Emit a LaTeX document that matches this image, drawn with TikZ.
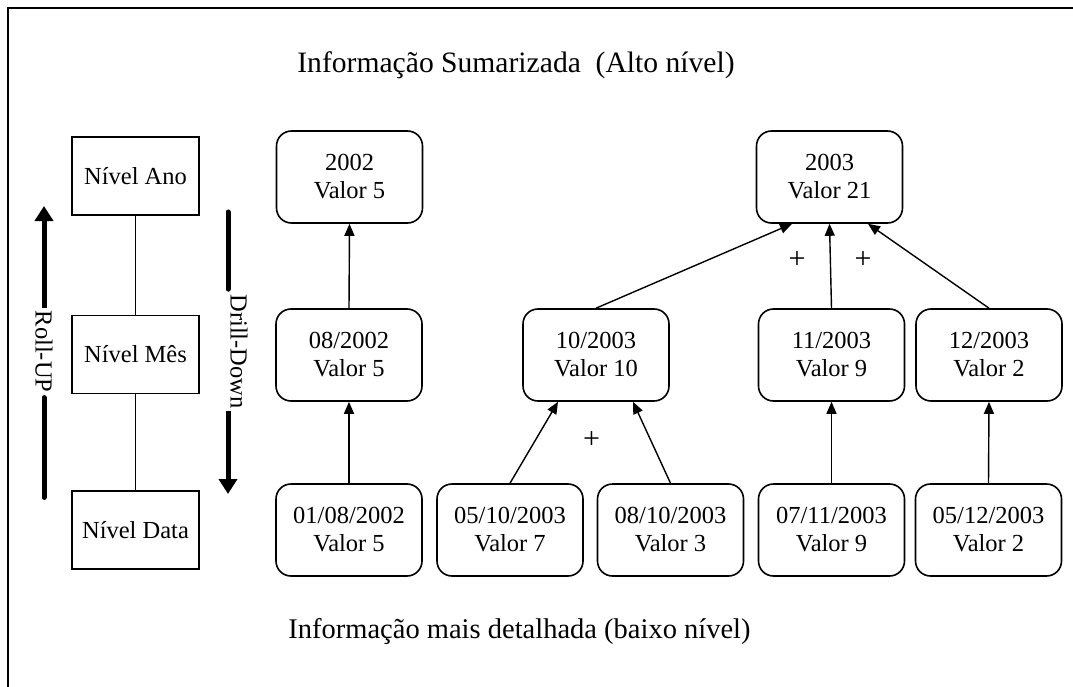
\documentclass[tikz,border=0pt]{standalone}
\usepackage{fontspec}
\setmainfont{Liberation Serif}
\usetikzlibrary{arrows.meta}
\begin{document}
\begin{tikzpicture}[x=1pt,y=-1pt,
  txt/.style={font=\fontsize{24.5}{28}\selectfont, align=center, inner sep=0pt},
  cell/.style={txt, draw, line width=1.6pt, rounded corners=15pt, minimum width=146pt, minimum height=92pt},
  level/.style={txt, draw, line width=1.5pt, minimum width=127pt, minimum height=78pt},
  conn/.style={line width=1.4pt, -{Triangle[width=10pt,length=12pt]}},
  link/.style={line width=1pt},
  heavy/.style={line width=5pt},
  heavyarrow/.style={heavy, -{Triangle[width=18pt,length=15pt]}},
  title/.style={font=\fontsize{28.5}{34}\selectfont, inner sep=0pt, anchor=base},
  sideword/.style={txt, rotate=-90, inner sep=2.5pt},
  plus/.style={txt, font=\fontsize{30}{34}\selectfont}]
\useasboundingbox (0,0) rectangle (1073,687);

% outer frame
\draw[line width=2.2pt] (8,700) -- (8,8) -- (1090,8);

% headings
\node[title, font=\fontsize{29.6}{34}\selectfont] (toptitle) at (516,73) {Informação Sumarizada\ \ (Alto nível)};
\node[title] (bottitle) at (519.5,638) {Informação mais detalhada (baixo nível)};

% hierarchy levels
\node[level] (ano)  at (135.5,176)   {Nível Ano};
\node[level] (mes)  at (135.5,354.5) {Nível Mês};
\node[level] (data) at (135.5,530)   {Nível Data};
\draw[link] (ano) -- (mes);
\draw[link] (mes) -- (data);

% roll-up / drill-down arrows
\node[sideword] (ru) at (44,351.5) {Roll-UP};
\node[sideword] (dd) at (239,351.5) {Drill-Down};
\coordinate (rubot) at (44,497.5);
\coordinate (rutop) at (44,206);
\coordinate (ddtop) at (228,212);
\coordinate (ddtip) at (228,494);
\draw[heavy, line cap=round, shorten >=2.5pt] (rubot) -- (rubot |- ru.east);
\draw[heavyarrow] (rutop |- ru.west) -- (rutop);
\draw[heavy, line cap=round, shorten >=2.5pt] (ddtop) -- (ddtop |- dd.west);
\draw[heavyarrow] (ddtop |- dd.east) -- (ddtip);

% years
\node[cell] (y2002) at (349.5,177) {2002\\Valor 5};
\node[cell] (y2003) at (829.5,177) {2003\\Valor 21};

% months
\node[cell] (m082002) at (349,355)   {08/2002\\Valor 5};
\node[cell] (m10)     at (596,355)   {10/2003\\Valor 10};
\node[cell] (m11)     at (831.5,355) {11/2003\\Valor 9};
\node[cell] (m12)     at (989,355)   {12/2003\\Valor 2};

% days
\node[cell] (d010802) at (349,530)   {01/08/2002\\Valor 5};
\node[cell] (d0510)   at (510,530)   {05/10/2003\\Valor 7};
\node[cell] (d0810)   at (670.5,530) {08/10/2003\\Valor 3};
\node[cell] (d0711)   at (831.5,530) {07/11/2003\\Valor 9};
\node[cell] (d0512)   at (988.5,530) {05/12/2003\\Valor 2};

% aggregation arrows
\draw[conn] (d010802.north) -- (m082002.south);
\draw[conn] (m082002.north) -- (y2002.south);
\draw[conn] (d0510.north) -- ([xshift=-38pt]m10.south);
\draw[conn] (d0810.north) -- ([xshift=37pt]m10.south);
\draw[conn] (m10.north) -- ([xshift=-37.5pt]y2003.south);
\draw[conn] (m11.north) -- (y2003.south);
\draw[conn] (m12.north) -- ([xshift=38.5pt]y2003.south);
\draw[conn] (d0711.north) -- (m11.south);
\draw[conn] (d0512.north) -- (m12.south);

% sum markers
\node[plus] (p1) at (591.5,440) {+};
\node[plus] (p2) at (797,260) {+};
\node[plus] (p3) at (863,260) {+};
\end{tikzpicture}
\end{document}
